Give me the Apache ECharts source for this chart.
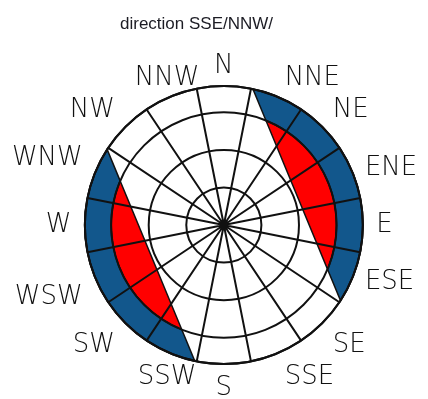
<!DOCTYPE html>
<html>
<head>
<meta charset="utf-8">
<script src="https://cdn.jsdelivr.net/npm/echarts@6/dist/echarts.min.js"></script>
<style>
  html, body { margin: 0; padding: 0; background: #fff; }
  #chart { width: 428px; height: 399px; }
</style>
</head>
<body>
<div id="chart"></div>
<script>
// Compass sectors, clockwise from north
const directions = ['N', 'NNE', 'NE', 'ENE', 'E', 'ESE', 'SE', 'SSE',
                    'S', 'SSW', 'SW', 'WSW', 'W', 'WNW', 'NW', 'NNW'];

// Rings of the rose (radius units) and the outer rim
const ringTicks = [0, 1, 2, 3];
const rimRadius = 3.7;

// The corridor along SSE/NNW: bearing of its axis and the distance
// from the centre to each of its two edges (radius units)
const corridorBearing = 157.5;
const corridorHalfWidth = 2.1;

// Shaded zones outside the corridor, per ring band
const zoneFrom = [2, 3];
const zoneTo = [3, 3.7];
const zoneColors = ['#ff0000', '#12578c'];
const corridorSides = [1, -1];

const sectorWidth = 360 / directions.length;

const zoneData = [];
corridorSides.forEach(function (side) {
  zoneFrom.forEach(function (r0, i) {
    zoneData.push({ value: [r0, zoneTo[i], side], itemStyle: { color: zoneColors[i] } });
  });
});

const labelData = directions.map(function (name, i) {
  return { name: name, value: [i * sectorWidth] };
});

function wrap(a) { return ((a % 360) + 360) % 360; }

// Part of the ring band [r0, r1] lying beyond one corridor edge
function renderZone(params, api) {
  const r0 = api.value(0), r1 = api.value(1), side = api.value(2);
  const normal = corridorBearing - 90 + (side > 0 ? 0 : 180);
  const d = corridorHalfWidth;
  const deg = 180 / Math.PI;
  const steps = 60;
  const pts = [];
  const a1 = Math.acos(d / r1) * deg;
  for (let i = 0; i <= steps; i++) {
    pts.push(api.coord([r1, wrap(normal - a1 + 2 * a1 * i / steps)]));
  }
  if (r0 > d) {
    const a0 = Math.acos(d / r0) * deg;
    for (let i = 0; i <= steps; i++) {
      pts.push(api.coord([r0, wrap(normal + a0 - 2 * a0 * i / steps)]));
    }
  }
  return {
    type: 'polygon',
    shape: { points: pts },
    style: { fill: api.visual('color'), stroke: '#111', lineWidth: 1.5 }
  };
}

// Compass names around the rim; east-side names hang off the rim a
// little more loosely than west-side ones
const labelRadius = 3.95;
function renderLabel(params, api) {
  const bearing = api.value(0);
  const rad = bearing * Math.PI / 180;
  const h = Math.sin(rad), v = Math.cos(rad);
  const p = api.coord([labelRadius, bearing]);
  let align = 'center', vAlign = 'middle', x = p[0], y = p[1];
  if (h > 0.38) { align = 'left'; x += 4; }
  else if (h < -0.39) { align = 'right'; x -= 4; }
  const lim = h > 0 ? 0.39 : 0.38;
  if (v > lim) { vAlign = 'bottom'; y += 3; }
  else if (v < -lim) { vAlign = 'top'; y += 2; }
  return {
    type: 'text',
    x: x,
    y: y,
    style: {
      text: directions[params.dataIndex],
      fill: '#111',
      fontFamily: 'DejaVu Sans',
      fontWeight: 200,
      fontSize: 26,
      align: align,
      verticalAlign: vAlign
    }
  };
}

const center = ['52.3%', '56.4%'];
const radius = 139;
const gridLine = { color: '#111', width: 2 };

const chart = echarts.init(document.getElementById('chart'), null, { renderer: 'canvas' });
chart.setOption({
  animation: false,
  backgroundColor: '#fff',
  title: {
    text: 'direction SSE/NNW/',
    left: 115,
    top: 11,
    textStyle: { fontFamily: 'Liberation Sans, Arial, sans-serif', fontSize: 17, fontWeight: 'normal', color: '#1c1c24' }
  },
  polar: [
    { center: center, radius: radius },
    { center: center, radius: radius }
  ],
  angleAxis: [
    {
      polarIndex: 0,
      type: 'category',
      data: directions,
      startAngle: 90 + sectorWidth / 2,
      clockwise: true,
      boundaryGap: true,
      z: 10,
      axisLine: { show: true, lineStyle: gridLine },
      axisTick: { show: false, interval: 0 },
      splitLine: { show: true, interval: 0, lineStyle: gridLine },
      axisLabel: { show: false }
    },
    {
      polarIndex: 1,
      type: 'value',
      min: 0,
      max: 360,
      startAngle: 90,
      clockwise: true,
      axisLine: { show: false },
      axisTick: { show: false },
      axisLabel: { show: false },
      splitLine: { show: false }
    }
  ],
  radiusAxis: [
    {
      polarIndex: 0,
      type: 'value',
      min: ringTicks[0],
      max: rimRadius,
      interval: ringTicks[1] - ringTicks[0],
      z: 10,
      axisLine: { show: false },
      axisTick: { show: false },
      axisLabel: { show: false },
      splitLine: { show: true, lineStyle: gridLine }
    },
    {
      polarIndex: 1,
      type: 'value',
      min: 0,
      max: rimRadius,
      axisLine: { show: false },
      axisTick: { show: false },
      axisLabel: { show: false },
      splitLine: { show: false }
    }
  ],
  series: [
    {
      type: 'custom',
      coordinateSystem: 'polar',
      polarIndex: 1,
      z: 2,
      renderItem: renderZone,
      data: zoneData
    },
    {
      type: 'custom',
      coordinateSystem: 'polar',
      polarIndex: 1,
      z: 20,
      silent: true,
      renderItem: renderLabel,
      data: labelData
    }
  ]
});
</script>
</body>
</html>
